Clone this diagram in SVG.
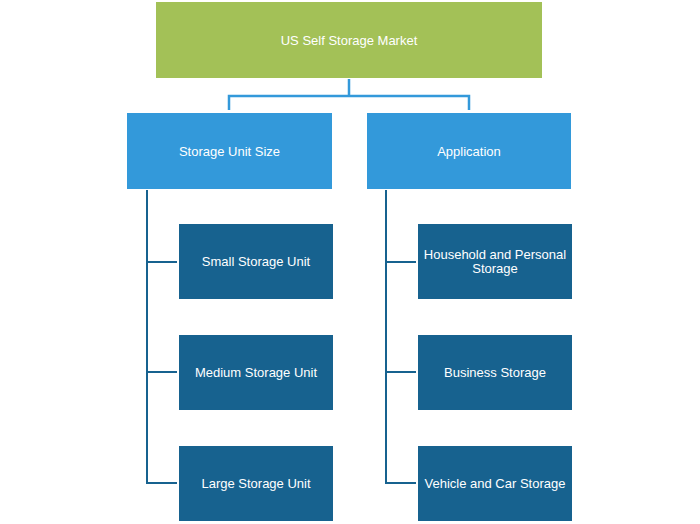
<svg xmlns="http://www.w3.org/2000/svg" width="700" height="524" viewBox="0 0 700 524">
<style>
.t{font-family:"Liberation Sans",Arial,sans-serif;font-size:13px;fill:#fff;text-anchor:middle;dominant-baseline:central}
.g{fill:#A3C157}
.b{fill:#3399DA}
.d{fill:#17628F}
.c1{stroke:#3399DA;stroke-width:2.5;fill:none}
.c2{stroke:#17628F;stroke-width:2;fill:none}
</style>
<rect width="700" height="524" fill="#fff"/>
<g id="connectors">
<path class="c1" d="M349,79V96M229,110V96H469V110"/>
<path class="c2" d="M147,190V483H177M147,262H177M147,372H177"/>
<path class="c2" d="M386,190V483H416M386,262H416M386,372H416"/>
</g>
<g id="root"><rect class="g" x="156" y="2" width="386" height="76"/><text class="t" x="349" y="40">US Self Storage Market</text></g>
<g id="size"><rect class="b" x="127" y="113" width="205" height="76"/><text class="t" x="229.5" y="151">Storage Unit Size</text></g>
<g id="app"><rect class="b" x="367" y="113" width="204" height="76"/><text class="t" x="469" y="151">Application</text></g>
<g id="small"><rect class="d" x="179" y="224" width="154" height="75"/><text class="t" x="256" y="261.5">Small Storage Unit</text></g>
<g id="medium"><rect class="d" x="179" y="335" width="154" height="75"/><text class="t" x="256" y="372.5">Medium Storage Unit</text></g>
<g id="large"><rect class="d" x="179" y="446" width="154" height="75"/><text class="t" x="256" y="483.5">Large Storage Unit</text></g>
<g id="household"><rect class="d" x="418" y="224" width="154" height="75"/><text class="t" x="495" y="254.5">Household and Personal</text><text class="t" x="495" y="268.5">Storage</text></g>
<g id="business"><rect class="d" x="418" y="335" width="154" height="75"/><text class="t" x="495" y="372.5">Business Storage</text></g>
<g id="vehicle"><rect class="d" x="418" y="446" width="154" height="75"/><text class="t" x="495" y="483.5">Vehicle and Car Storage</text></g>
</svg>
